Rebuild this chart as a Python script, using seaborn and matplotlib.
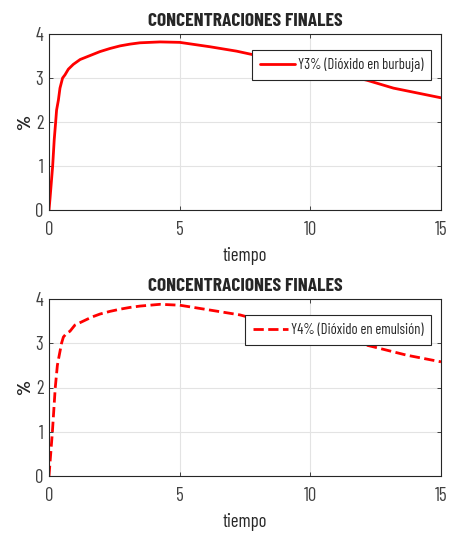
import matplotlib
matplotlib.use("Agg")
import matplotlib.pyplot as plt
import seaborn as sns
import pandas as pd

sns.set_style("white")
plt.rcParams['font.family'] = ['Barlow Condensed', 'Roboto Condensed', 'DejaVu Sans']

# Data
t_y3 = [0, 0.04, 0.14, 0.2, 0.255, 0.29, 0.36, 0.42, 0.52, 0.61, 0.74, 0.93, 1.19, 1.57, 1.95, 2.33, 2.72, 3.1, 3.48,
        4.25, 5.0, 6.16, 7.18, 7.88, 9.0, 10.0, 11.0, 12.16, 13.18, 15.0]
y3 = [0, 0.27, 1.0, 1.6, 2.0, 2.27, 2.5, 2.77, 3.0, 3.07, 3.2, 3.31, 3.42, 3.51, 3.6, 3.67, 3.73, 3.77, 3.8,
      3.82, 3.81, 3.71, 3.61, 3.52, 3.38, 3.25, 3.11, 2.95, 2.77, 2.55]

t_y4 = [0, 0.13, 0.24, 0.32, 0.37, 0.48, 0.55, 0.68, 0.80, 0.99, 1.31, 1.63, 1.95, 2.33, 2.72, 3.1, 3.48,
        4.25, 5.0, 6.16, 7.31, 7.56, 9.0, 10.0, 11.0, 12.41, 13.69, 15.0]
y4 = [0, 1.0, 2.0, 2.5, 2.66, 3.0, 3.14, 3.23, 3.27, 3.41, 3.5, 3.59, 3.66, 3.72, 3.77, 3.81, 3.84,
      3.88, 3.86, 3.75, 3.64, 3.6, 3.42, 3.28, 3.12, 2.92, 2.73, 2.58]

title = "CONCENTRACIONES FINALES"
xlabel = "tiempo"
ylabel = "%"
label3 = "Y3% (Dióxido en burbuja)"
label4 = "Y4% (Dióxido en emulsión)"

df3 = pd.DataFrame({"t": t_y3, "y": y3})
df4 = pd.DataFrame({"t": t_y4, "y": y4})

fig = plt.figure(figsize=(4.49, 5.34), dpi=100)
ax1 = fig.add_axes([49/449, 1-210/534, 392/449, 176/534])
ax2 = fig.add_axes([49/449, 1-476/534, 392/449, 177/534])

axis_col = "#262626"
tick_col = "#404040"
for ax, df, lab, ls in [(ax1, df3, label3, "-"), (ax2, df4, label4, "--")]:
    sns.lineplot(data=df, x="t", y="y", ax=ax, color="red", lw=2.0, label=lab,
                 linestyle=ls, dashes=False if ls == "-" else (3.8, 2.0))
    ax.set_xlim(0, 15)
    ax.set_ylim(0, 4)
    ax.set_xticks([0, 5, 10, 15])
    ax.set_yticks([0, 1, 2, 3, 4])
    ax.grid(True, color="#e3e3e3", lw=0.8)
    ax.set_axisbelow(True)
    for s in ax.spines.values():
        s.set_visible(True)
        s.set_color(axis_col)
        s.set_linewidth(0.8)
    ax.tick_params(direction="in", length=3, width=0.6, colors=axis_col, labelcolor=tick_col,
                   labelsize=13.5, top=True, right=True, bottom=True, left=True)
    ax.tick_params(axis="x", pad=8)
    ax.tick_params(axis="y", pad=4)
    ax.set_title(title, fontsize=14, fontweight="bold", pad=6)
    ax.set_xlabel(xlabel, fontsize=13.5, color=axis_col, labelpad=6)
    ax.set_ylabel(ylabel, fontsize=14, fontweight="bold", color=axis_col, labelpad=1)
    leg = ax.legend(loc="upper right", bbox_to_anchor=(0.975, 0.91), fontsize=10.5,
                    frameon=True, fancybox=False, framealpha=1, edgecolor=axis_col,
                    handlelength=2.4, handletextpad=0.2, borderpad=0.55, borderaxespad=0)
    leg.get_frame().set_linewidth(0.8)

fig.savefig("out.png", dpi=100)
